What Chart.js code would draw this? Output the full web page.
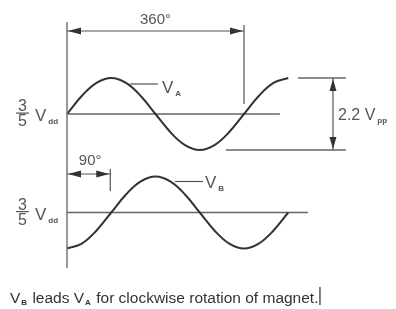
<!DOCTYPE html>
<html>
<head>
<meta charset="utf-8">
<script src="https://cdn.jsdelivr.net/npm/chart.js@4"></script>
<style>
  html, body { margin: 0; padding: 0; background: #fff; }
  #wrap { width: 396px; height: 309px; }
</style>
</head>
<body>
<div id="wrap"><canvas id="phaseChart"></canvas></div>
<script>
// shaft angle in degrees, and the two sensor outputs around 3/5 Vdd (volts)
var degrees = [0, 30, 60, 90, 120, 150, 180, 210, 240, 270, 300, 330, 360, 390, 420, 450];
var voltsA = [0, 0.55, 0.95, 1.1, 0.95, 0.55, 0, -0.55, -0.95, -1.1, -0.95, -0.55, 0, 0.55, 0.95, 1.1];
var voltsB = [-1.1, -0.95, -0.55, 0, 0.55, 0.95, 1.1, 0.95, 0.55, 0, -0.55, -0.95, -1.1, -0.95, -0.55, 0];
var baselineA = [0, 433];
var baselineB = [0, 490];
var ppTop = [470, 567];
var ppBottom = [323, 567];
var ppLevel = 1.1;
var periodLabel = '360°';
var leadLabel = '90°';
var ppLabel = '2.2 V';
var caption = ['V', 'B', ' leads V', 'A', ' for clockwise rotation of magnet.'];

// scale: 177px per 360 deg, 36px per 1.1 V
var degPx = 177 / 360;
var voltPx = 36 / 1.1;
var originX = 67, centerA = 114, centerB = 212.5;
var FONT = '"Liberation Sans", Arial, sans-serif';

function pts(xs, ys) {
  return xs.map(function (x, i) { return { x: x, y: ys[i] }; });
}
function flat(xs, v) {
  return xs.map(function (x) { return { x: x, y: v }; });
}

var waveStyle = { borderColor: '#333', borderWidth: 2, pointRadius: 0, fill: false, tension: 0.4 };
var lineStyle = { borderColor: '#666', borderWidth: 1.3, pointRadius: 0, fill: false };

var data = {
  datasets: [
    Object.assign({ label: 'VA', data: pts(degrees, voltsA), yAxisID: 'yA' }, waveStyle),
    Object.assign({ label: 'VB', data: pts(degrees, voltsB), yAxisID: 'yB' }, waveStyle),
    Object.assign({ label: 'baseA', data: flat(baselineA, 0), yAxisID: 'yA' }, lineStyle),
    Object.assign({ label: 'baseB', data: flat(baselineB, 0), yAxisID: 'yB' }, lineStyle),
    Object.assign({ label: 'ppTop', data: flat(ppTop, ppLevel), yAxisID: 'yA' }, lineStyle),
    Object.assign({ label: 'ppBottom', data: flat(ppBottom, -ppLevel), yAxisID: 'yA' }, lineStyle)
  ]
};

function arrowHead(ctx, x, y, dir, vertical) {
  ctx.beginPath();
  if (vertical) {
    ctx.moveTo(x, y);
    ctx.lineTo(x - 3.5, y - dir * 12);
    ctx.lineTo(x + 3.5, y - dir * 12);
  } else {
    ctx.moveTo(x, y);
    ctx.lineTo(x - dir * 13, y - 3.5);
    ctx.lineTo(x - dir * 13, y + 3.5);
  }
  ctx.closePath();
  ctx.fill();
}

function subText(ctx, main, sub, x, y, size, subSize) {
  ctx.font = size + 'px ' + FONT;
  ctx.fillText(main, x, y);
  var w = ctx.measureText(main).width;
  ctx.font = 'bold ' + subSize + 'px ' + FONT;
  ctx.fillText(sub, x + w + 2, y + 3);
}

function fraction(ctx, yc) {
  ctx.textAlign = 'center';
  ctx.font = '16px ' + FONT;
  ctx.fillText('3', 22.5, yc - 3);
  ctx.fillText('5', 22.5, yc + 12);
  ctx.fillRect(16, yc - 1.5, 13, 1.2);
  ctx.textAlign = 'left';
  subText(ctx, 'V', 'dd', 35, yc + 7, 17, 8);
}

var decorations = {
  id: 'decorations',
  afterDatasetsDraw: function (chart) {
    var ctx = chart.ctx;
    var x = chart.scales.x, yA = chart.scales.yA, yB = chart.scales.yB;
    var x0 = x.getPixelForValue(0), x90 = x.getPixelForValue(90), x360 = x.getPixelForValue(360);
    var xpp = x.getPixelForValue(541);
    var cA = yA.getPixelForValue(0), cB = yB.getPixelForValue(0);
    var top = yA.getPixelForValue(ppLevel), bot = yA.getPixelForValue(-ppLevel);
    ctx.save();
    ctx.strokeStyle = '#777';
    ctx.fillStyle = '#333';
    ctx.lineWidth = 1.5;
    // vertical axis
    ctx.beginPath(); ctx.moveTo(x0, 22); ctx.lineTo(x0, 268); ctx.stroke();
    ctx.strokeStyle = '#555';
    ctx.lineWidth = 1.2;
    // 360 deg dimension
    ctx.beginPath(); ctx.moveTo(x0, 31); ctx.lineTo(x360, 31); ctx.stroke();
    ctx.beginPath(); ctx.moveTo(x360, 25); ctx.lineTo(x360, cA - 10); ctx.stroke();
    arrowHead(ctx, x0 + 1, 31, -1, false);
    arrowHead(ctx, x360 - 1, 31, 1, false);
    // 90 deg dimension
    ctx.beginPath(); ctx.moveTo(x0, 174); ctx.lineTo(x90, 174); ctx.stroke();
    ctx.beginPath(); ctx.moveTo(x90 - 1, 169); ctx.lineTo(x90 - 1, 191); ctx.stroke();
    arrowHead(ctx, x0 + 1, 174, -1, false);
    arrowHead(ctx, x90 - 2, 174, 1, false);
    // 2.2 Vpp dimension
    ctx.beginPath(); ctx.moveTo(xpp, top); ctx.lineTo(xpp, bot); ctx.stroke();
    arrowHead(ctx, xpp, top + 1, -1, true);
    arrowHead(ctx, xpp, bot - 1, 1, true);
    // leaders
    ctx.beginPath(); ctx.moveTo(130, cA - 30); ctx.lineTo(158, cA - 30); ctx.stroke();
    ctx.beginPath(); ctx.moveTo(175, cB - 31); ctx.lineTo(203, cB - 31); ctx.stroke();

    ctx.fillStyle = '#555';
    ctx.textBaseline = 'alphabetic';
    ctx.textAlign = 'center';
    ctx.font = '15px ' + FONT;
    ctx.fillText(periodLabel, (x0 + x360) / 2, 24);
    ctx.fillText(leadLabel, (x0 + x90) / 2 + 1, 165);
    ctx.textAlign = 'left';
    subText(ctx, 'V', 'A', 162, cA - 21, 17, 8);
    subText(ctx, 'V', 'B', 205, cB - 25, 17, 8);
    subText(ctx, ppLabel, 'pp', 338, cA + 6, 16, 8);
    fraction(ctx, cA);
    fraction(ctx, cB);

    // caption
    ctx.fillStyle = '#333';
    var cx = 10, cy = 303;
    caption.forEach(function (part, i) {
      if (i % 2 === 1) {
        ctx.font = 'bold 8px ' + FONT;
        ctx.fillText(part, cx + 1, cy + 2);
        cx += ctx.measureText(part).width + 2;
      } else {
        ctx.font = '15.5px ' + FONT;
        ctx.fillText(part, cx, cy);
        cx += ctx.measureText(part).width;
      }
    });
    ctx.fillStyle = '#000';
    ctx.fillRect(cx + 1, 287, 1, 18);
    ctx.restore();
  }
};

var options = {
  responsive: true,
  maintainAspectRatio: false,
  animation: false,
  layout: { padding: 0 },
  scales: {
    x: { type: 'linear', display: false, min: -originX / degPx, max: (396 - originX) / degPx },
    yA: { type: 'linear', display: false, min: -(309 - centerA) / voltPx, max: centerA / voltPx },
    yB: { type: 'linear', display: false, min: -(309 - centerB) / voltPx, max: centerB / voltPx }
  },
  plugins: {
    legend: { display: false },
    tooltip: { enabled: false }
  }
};

var ctx = document.getElementById('phaseChart').getContext('2d');
var phaseChart = new Chart(ctx, {
  type: 'line',
  data: data,
  options: options,
  plugins: [decorations]
});
</script>
</body>
</html>
